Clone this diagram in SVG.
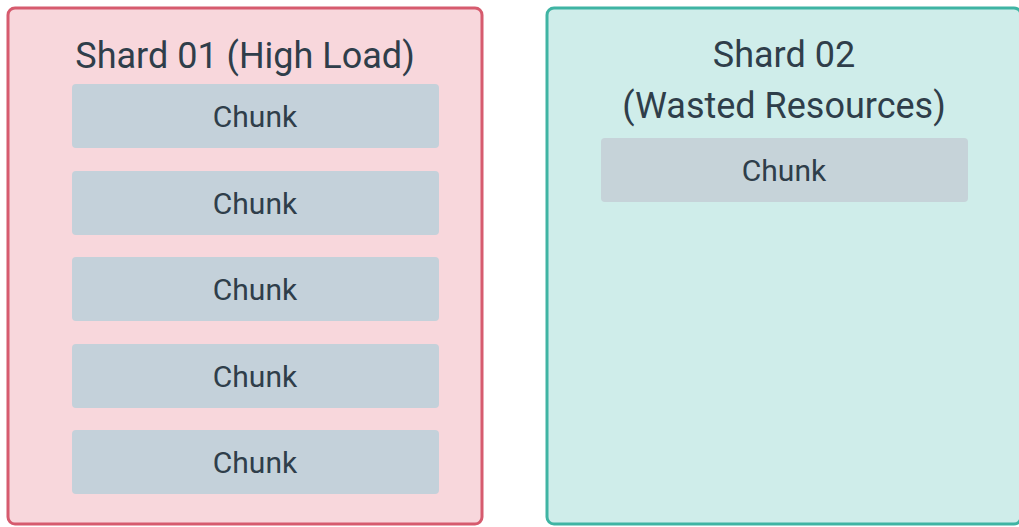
<svg xmlns="http://www.w3.org/2000/svg" width="1019" height="527" viewBox="0 0 1019 527">
<style>
.t{font-family:Roboto,"Liberation Sans",sans-serif;fill:#2f3e4a;text-anchor:middle}
.title{font-size:36px}
.ck{font-size:30px}
.chunk{fill:#c4d1da}
</style>
<rect width="1019" height="527" fill="#ffffff"/>
<g id="shard01">
<rect x="8" y="8" width="474" height="516" rx="7" fill="#f8d7dc" stroke="#d65b6e" stroke-width="3"/>
<text class="t title" x="245" y="68">Shard 01 (High Load)</text>
</g>
<g id="chunk1"><rect class="chunk" x="72" y="84" width="367" height="64" rx="4"/><text class="t ck" x="255" y="127">Chunk</text></g>
<g id="chunk2"><rect class="chunk" x="72" y="171" width="367" height="64" rx="4"/><text class="t ck" x="255" y="214">Chunk</text></g>
<g id="chunk3"><rect class="chunk" x="72" y="257" width="367" height="64" rx="4"/><text class="t ck" x="255" y="300">Chunk</text></g>
<g id="chunk4"><rect class="chunk" x="72" y="344" width="367" height="64" rx="4"/><text class="t ck" x="255" y="387">Chunk</text></g>
<g id="chunk5"><rect class="chunk" x="72" y="430" width="367" height="64" rx="4"/><text class="t ck" x="255" y="473">Chunk</text></g>
<g id="shard02">
<rect x="547" y="8" width="474" height="516" rx="7" fill="#cfedea" stroke="#3fb4a3" stroke-width="3"/>
<text class="t title" x="784" y="67">Shard 02</text>
<text class="t title" x="784" y="118">(Wasted Resources)</text>
</g>
<g id="chunk6"><rect x="601" y="138" width="367" height="64" rx="4" fill="#c6d3d9"/><text class="t ck" x="784" y="181">Chunk</text></g>
<g id="connectors"></g>
</svg>
